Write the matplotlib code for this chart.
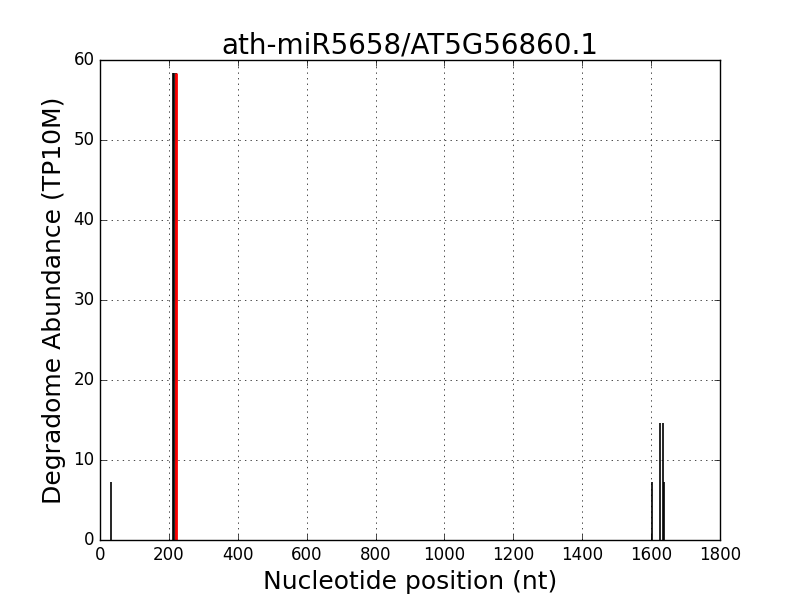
import matplotlib
matplotlib.use('agg')
import matplotlib.pyplot as plt

# 降解组数据
positions = [32, 213, 216, 222, 1603, 1627, 1635, 1638]
abundance = [7.3, 58.4, 58.4, 58.4, 7.3, 14.6, 14.6, 7.3]
site_pos = [220]
site_abund = [58.4]

plt.style.use('classic')
fig = plt.figure(figsize=(8, 6), dpi=100)
ax = fig.add_subplot(111)
ax.vlines(positions, 0, abundance, colors='black', linewidth=1.2)
ax.vlines(site_pos, 0, site_abund, colors='red', linewidth=2)
ax.set_xlim(0, 1800)
ax.set_ylim(0, 60)
ax.grid(True)
ax.set_title('ath-miR5658/AT5G56860.1', fontsize=20)
ax.set_xlabel('Nucleotide position (nt)', fontsize=18)
ax.set_ylabel('Degradome Abundance (TP10M)', fontsize=18)
ax.tick_params(labelsize=12)
plt.savefig('out.png')
plt.close()
